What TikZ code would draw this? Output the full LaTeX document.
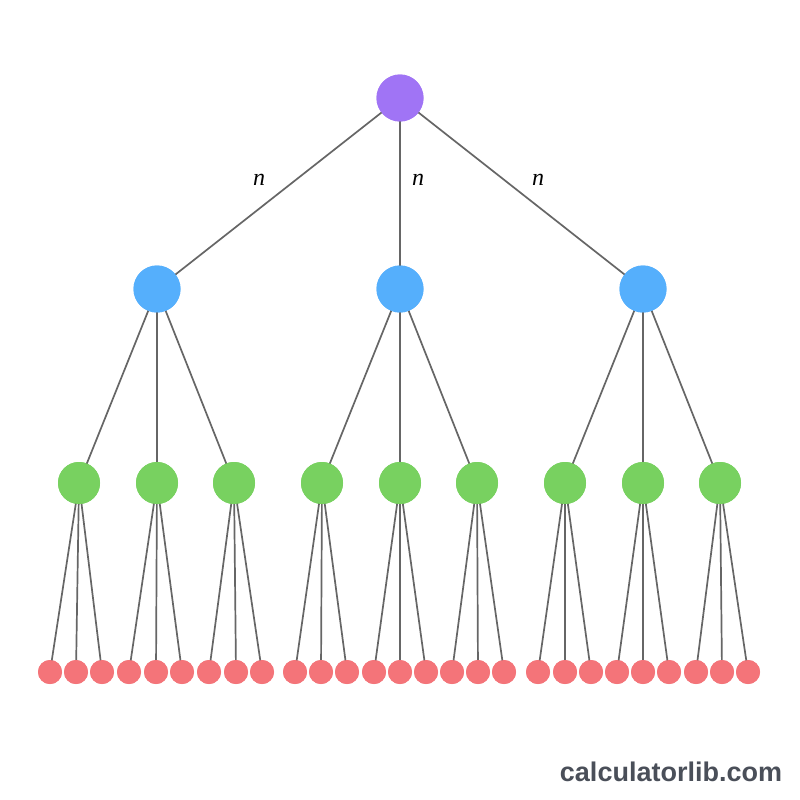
\documentclass[tikz,border=0pt]{standalone}
\usepackage{fontspec}
\newfontfamily\wmfont{Liberation Sans}
\newfontfamily\labfont{Liberation Serif}
\definecolor{rootc}{HTML}{A074F5}
\definecolor{bluec}{HTML}{55AFFC}
\definecolor{greenc}{HTML}{78D160}
\definecolor{redc}{HTML}{F47479}
\definecolor{edgec}{HTML}{666666}
\definecolor{wmc}{HTML}{4A4F59}
\begin{document}
\begin{tikzpicture}[x=1pt,y=-1pt,
  edge/.style={draw=edgec,line width=1.7pt},
  rootnode/.style={circle,fill=rootc,minimum size=47pt,inner sep=0pt},
  bnode/.style={circle,fill=bluec,minimum size=47pt,inner sep=0pt},
  gnode/.style={circle,fill=greenc,minimum size=42pt,inner sep=0pt},
  rnode/.style={circle,fill=redc,minimum size=24pt,inner sep=0pt},
  lab/.style={font=\labfont\itshape\fontsize{24}{24}\selectfont}]
\useasboundingbox[fill=white] (0,0) rectangle (800,800);
\node[rootnode] (r) at (400,98) {};
\foreach \i/\x in {1/157,2/400,3/643}{
  \node[bnode] (b\i) at (\x,289) {};
}
\foreach \j/\x in {1/79,2/157,3/234,4/322,5/400,6/477,7/565,8/643,9/720}{
  \node[gnode] (g\j) at (\x,483) {};
}
\foreach \k/\x in {1/50,2/76,3/102,4/129,5/156,6/182,7/209,8/236,9/262,
  10/295,11/321,12/347,13/374,14/400,15/426,16/452,17/478,18/504,
  19/538,20/565,21/591,22/617,23/643,24/669,25/696,26/722,27/748}{
  \node[rnode] (l\k) at (\x,672) {};
}
% edges
\foreach \i in {1,2,3}{ \draw[edge] (r.center) -- (b\i.center); }
\foreach \j [evaluate=\j as \p using {int(ceil(\j/3))}] in {1,...,9}{
  \draw[edge] (b\p.center) -- (g\j.center);
}
\foreach \k [evaluate=\k as \p using {int(ceil(\k/3))}] in {1,...,27}{
  \draw[edge] (g\p.center) -- (l\k.center);
}
% redraw nodes on top of edges
\node[rootnode] at (r) {};
\foreach \i in {1,2,3}{ \node[bnode] at (b\i) {}; }
\foreach \j in {1,...,9}{ \node[gnode] at (g\j) {}; }
\foreach \k in {1,...,27}{ \node[rnode] at (l\k) {}; }
\node[lab] (n1) at (259,180) {n};
\node[lab] (n2) at (418,180) {n};
\node[lab] (n3) at (538,180) {n};
\node[font=\wmfont\bfseries\fontsize{27}{27}\selectfont,text=wmc] (wm) at (671,772) {calculatorlib.com};
\end{tikzpicture}
\end{document}
